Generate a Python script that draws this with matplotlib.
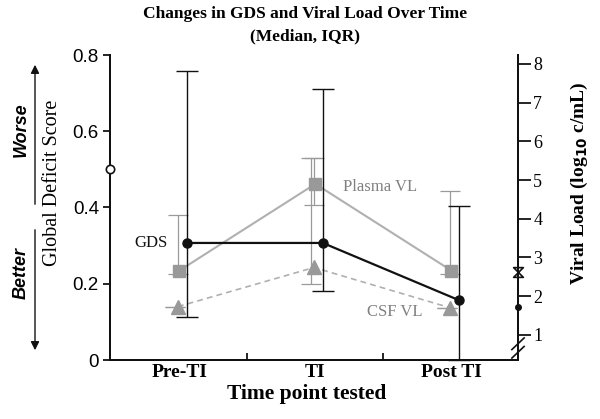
import matplotlib
matplotlib.use("Agg")
import matplotlib.pyplot as plt
from matplotlib.path import Path
from matplotlib.lines import Line2D
import numpy as np

# ---- data ----
categories = ["Pre-TI", "TI", "Post TI"]
gds_median = [0.307, 0.307, 0.157]
gds_low = [0.113, 0.180, 0.0]
gds_high = [0.758, 0.711, 0.405]

plasma_median = [2.66, 4.90, 2.66]
plasma_low = [2.56, 4.36, 2.56]
plasma_high = [4.10, 5.57, 4.72]

csf_median = [1.73, 2.74, 1.70]
csf_low = [1.73, 2.31, 1.70]
csf_high = [1.73, 5.57, 1.70]

left_ticks = [0, 0.2, 0.4, 0.6, 0.8]
left_ticklabels = ["0", "0.2", "0.4", "0.6", "0.8"]
right_ticks = [1, 2, 3, 4, 5, 6, 7, 8]

serif = "Liberation Serif"
sans = "Liberation Sans"

fig = plt.figure(figsize=(6.0, 4.19), dpi=100)
ax = fig.add_axes([110/600, 1-360/419, (518-110)/600, (360-55)/419])
ax2 = ax.twinx()
ax.set_zorder(ax2.get_zorder() + 1)
ax.patch.set_visible(False)

x = np.arange(len(categories))
gds_off = 0.055
vl_off = 0.0

black = "#111111"
gray_line = "#b0b0b0"
gray_mark = "#999999"
gray_err = "#9a9a9a"

# Viral loads on right axis
pl_err = [np.array(plasma_median) - np.array(plasma_low),
          np.array(plasma_high) - np.array(plasma_median)]
ax2.errorbar(x + vl_off - 0.01, plasma_median, yerr=pl_err, fmt="none",
             ecolor=gray_err, elinewidth=0.9, capsize=7, capthick=0.9, zorder=2)
csf_err = [np.array(csf_median) - np.array(csf_low),
           np.array(csf_high) - np.array(csf_median)]
ax2.errorbar(x + vl_off - 0.03, csf_median, yerr=csf_err, fmt="none",
             ecolor=gray_err, elinewidth=0.9, capsize=7, capthick=0.9, zorder=2)
ax2.plot(x + vl_off, plasma_median, color=gray_line, lw=1.5, zorder=3)
ax2.plot(x + vl_off, plasma_median, ls="none", marker="s", ms=9,
         color=gray_mark, zorder=4)
ax2.plot(x + vl_off - 0.01, csf_median, color=gray_line, lw=1.2,
         ls=(0, (3.5, 2.5)), zorder=3)
ax2.plot(x + vl_off - 0.01, csf_median, ls="none", marker="^", ms=9.5,
         color=gray_mark, zorder=4)

# GDS on left axis
g_err = [np.array(gds_median) - np.array(gds_low),
         np.array(gds_high) - np.array(gds_median)]
ax.errorbar(x + gds_off, gds_median, yerr=g_err, fmt="none", ecolor=black,
            elinewidth=1.0, capsize=8, capthick=1.0, zorder=2, clip_on=False)
ax.plot(x + gds_off, gds_median, color=black, lw=1.6, marker="o", ms=6.5,
        zorder=5)

# axes limits / spines
ax.set_xlim(-0.51, 2.49)
ax.set_ylim(0, 0.8)
ax2.set_ylim(0.35, 8.23)
for a in (ax, ax2):
    a.spines["top"].set_visible(False)
    for s in ("left", "right", "bottom"):
        a.spines[s].set_linewidth(1.4)
        a.spines[s].set_color(black)

ax.set_xticks([0.5, 1.5])
ax.set_xticklabels([])
ax.set_xticks(x, minor=True)
ax.set_xticklabels(categories, minor=True, fontfamily=serif,
                   fontweight="bold", fontsize=14)
ax.tick_params(axis="x", which="major", direction="in", length=5, width=1.2)
ax.tick_params(axis="x", which="minor", length=0, pad=3)

ax.set_yticks(left_ticks)
ax.set_yticklabels(left_ticklabels, fontfamily=sans, fontsize=13.5)
ax.tick_params(axis="y", direction="out", length=5, width=1.2, pad=3)

ax2.set_yticks(right_ticks)
ax2.set_yticklabels([str(t) for t in right_ticks], fontfamily=serif, fontsize=13)
ax2.tick_params(axis="y", direction="out", length=9, width=1.2, pad=2)

ax.set_xlabel("Time point tested", fontfamily=serif, fontweight="bold",
              fontsize=15.5)
ax.xaxis.set_label_coords((307-110)/408, -(384-360)/305)
ax.set_ylabel("Global Deficit Score", fontfamily=serif, fontsize=14.5)
ax.yaxis.set_label_coords(-0.118, 0.58)
ax2.set_ylabel(r"Viral Load (log$_{\mathbf{10}}$ c/mL)", fontfamily=serif,
               fontweight="bold", fontsize=14)
ax2.yaxis.set_label_coords(1.125, 0.58)

# title
fig.text(305/600, 1-14/419, "Changes in GDS and Viral Load Over Time",
         ha="center", va="center", fontfamily=serif, fontweight="bold",
         fontsize=12.5)
fig.text(305/600, 1-36/419, "(Median, IQR)", ha="center", va="center",
         fontfamily=serif, fontweight="bold", fontsize=12.5)

# series annotations
fig.text(151/600, 1-243/419, "GDS", ha="center", va="center",
         fontfamily=serif, fontsize=12, color=black)
fig.text(380/600, 1-187/419, "Plasma VL", ha="center", va="center",
         fontfamily=serif, fontsize=12, color="#808080")
fig.text(395/600, 1-312/419, "CSF VL", ha="center", va="center",
         fontfamily=serif, fontsize=12, color="#808080")

# open circle on left spine
ax.plot([0], [0.5], transform=ax.get_yaxis_transform(), marker="o", ms=6,
        mfc="white", mec=black, mew=1.2, clip_on=False, zorder=6)

# markers on right spine
hourglass = Path([(-1, 1), (1, 1), (-1, -1), (1, -1), (-1, 1)],
                 [Path.MOVETO, Path.LINETO, Path.LINETO, Path.LINETO, Path.CLOSEPOLY])
ax2.plot([1], [2.63], transform=ax2.get_yaxis_transform(), marker=hourglass,
         ms=7, color=black, mfc="none", mew=1.2, clip_on=False, zorder=6)
ax2.plot([1], [1.72], transform=ax2.get_yaxis_transform(), marker="o", ms=4,
         color=black, clip_on=False, zorder=6)
ybr = ax2.get_yaxis_transform()
for dy in (0.0, -0.22):
    ax2.add_line(Line2D([0.985, 1.015], [0.62 + dy, 0.92 + dy], transform=ybr,
                        color=black, lw=1.2, clip_on=False, zorder=6))

# Worse / Better arrows
fig.add_artist(matplotlib.patches.FancyArrowPatch(
    (35/600, 1-207/419), (35/600, 1-62/419), transform=fig.transFigure,
    arrowstyle="-|>,head_length=5,head_width=2.5", color=black, lw=1.0))
fig.add_artist(matplotlib.patches.FancyArrowPatch(
    (35/600, 1-227/419), (35/600, 1-353/419), transform=fig.transFigure,
    arrowstyle="-|>,head_length=5,head_width=2.5", color=black, lw=1.0))
fig.text(21/600, 1-130/419, "Worse", rotation=90, ha="center", va="center",
         fontfamily=sans, fontweight="bold", style="italic", fontsize=13)
fig.text(21/600, 1-273/419, "Better", rotation=90, ha="center", va="center",
         fontfamily=sans, fontweight="bold", style="italic", fontsize=13)

fig.savefig("out.png", dpi=100, facecolor="white")
